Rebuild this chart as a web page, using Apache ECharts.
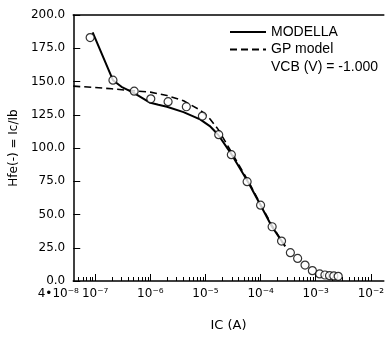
<!DOCTYPE html>
<html>
<head>
<meta charset="utf-8">
<script src="https://cdn.jsdelivr.net/npm/echarts@6/dist/echarts.min.js"></script>
<style>
  html, body { margin: 0; padding: 0; background: #fff; }
  #chart { width: 387px; height: 337px; }
</style>
</head>
<body>
<div id="chart"></div>
<script>
// measured data (open circles)
const measIc = [8.1e-8, 2.1e-7, 5.1e-7, 1.02e-6, 2.1e-6, 4.5e-6, 8.8e-6, 1.74e-5, 2.95e-5, 5.7e-5,
  1.0e-4, 1.62e-4, 2.4e-4, 3.47e-4, 4.7e-4, 6.4e-4, 8.7e-4, 1.18e-3, 1.47e-3, 1.78e-3, 2.13e-3, 2.56e-3];
const measHfe = [183, 151, 142.7, 137, 134.8, 131, 124, 110, 95, 74.7,
  57, 40.8, 30, 21.3, 17, 12, 7.8, 5.3, 4.5, 4.0, 3.8, 3.5];

// MODELLA (solid)
const modIc = [9e-8, 2.1e-7, 3e-7, 5e-7, 1e-6, 1.4e-6, 2e-6, 4e-6, 8e-6, 1.2e-5, 1.7e-5, 3e-5, 6e-5, 1e-4, 1.6e-4, 2.8e-4];
const modHfe = [187, 151, 146, 141.5, 134, 132.5, 131, 127, 121.5, 116.5, 110, 95, 74, 57, 41, 26];

// GP model (dashed)
const gpIc = [4e-8, 1e-7, 2e-7, 5e-7, 1e-6, 2e-6, 4e-6, 8e-6, 1.2e-5, 1.7e-5, 3e-5, 6e-5, 1e-4, 1.6e-4, 2.6e-4];
const gpHfe = [146.5, 145.5, 144.5, 143, 142, 139.5, 135.5, 128.5, 122, 114, 96.5, 75, 57.5, 42, 28];

// axis ticks / labels
const xLabelVals = [4e-8, 1e-7, 1e-6, 1e-5, 1e-4, 1e-3, 1e-2];
const xLabelText = ['4•10⁻⁸', '10⁻⁷', '10⁻⁶', '10⁻⁵', '10⁻⁴', '10⁻³', '10⁻²'];
const xMajorTicks = [1e-7, 1e-6, 1e-5, 1e-4, 1e-3, 1e-2];

const X_MIN = 4e-8, X_MAX = 1.72e-2;
const FONT = '"DejaVu Sans", sans-serif';
const LEG_FONT = '"Liberation Sans", Arial, sans-serif';

// minor ticks 2..9 in every decade
const xMinorTicks = [];
for (let e = -8; e <= -2; e++) {
  for (let m = 2; m <= 9; m++) {
    const v = m * Math.pow(10, e);
    if (v > X_MIN * 1.001 && v < X_MAX) xMinorTicks.push(v);
  }
}

// nudge the first label inside the extent so it is not dropped by rounding
const labelPos = xLabelVals.map(v => Math.max(v, X_MIN * 1.0001));

const zip = (a, b) => a.map((v, i) => [v, b[i]]);

const chart = echarts.init(document.getElementById('chart'));
chart.setOption({
  animation: false,
  grid: { left: 72, right: 2, top: 15, bottom: 56 },
  legend: {
    orient: 'vertical',
    left: 229,
    top: 25,
    padding: 0,
    itemWidth: 36,
    itemHeight: 14,
    itemGap: 3.5,
    data: ['MODELLA', 'GP model'],
    itemStyle: { opacity: 0 },
    textStyle: { fontSize: 14, color: '#000', fontFamily: LEG_FONT }
  },
  graphic: [{
    type: 'text',
    left: 271,
    top: 60,
    style: { text: 'VCB (V) = -1.000', font: '14px "Liberation Sans", Arial, sans-serif', fill: '#000' }
  }],
  xAxis: [
    {
      type: 'log',
      position: 'bottom',
      min: X_MIN,
      max: X_MAX,
      name: 'IC (A)',
      nameLocation: 'middle',
      nameGap: 38,
      nameTextStyle: { fontSize: 13, color: '#000', fontFamily: FONT },
      axisLine: { show: true, lineStyle: { color: '#000', width: 1.5 } },
      axisTick: { show: true, inside: true, length: 7, customValues: xMajorTicks, lineStyle: { color: '#000' } },
      axisLabel: {
        customValues: labelPos,
        showMinLabel: true,
        color: '#000',
        fontSize: 12,
        fontFamily: FONT,
        margin: 7,
        formatter: function (v) {
          for (let i = 0; i < xLabelVals.length; i++) {
            if (Math.abs(v / xLabelVals[i] - 1) < 1e-2) {
              // the first label sits left of its tick in the original
              return i === 0 ? '{a|' + xLabelText[i] + '}' : xLabelText[i];
            }
          }
          return '';
        },
        rich: {
          a: { fontSize: 12, fontFamily: FONT, color: '#000', padding: [0, 30, 0, 0] }
        }
      },
      splitLine: { show: false }
    },
    {
      type: 'log',
      position: 'bottom',
      min: X_MIN,
      max: X_MAX,
      axisLine: { show: false },
      axisTick: { show: true, inside: true, length: 4, customValues: xMinorTicks, lineStyle: { color: '#000' } },
      axisLabel: { show: false },
      splitLine: { show: false }
    },
    {
      type: 'log',
      position: 'top',
      min: X_MIN,
      max: X_MAX,
      axisLine: { show: true, lineStyle: { color: '#000', width: 1.5 } },
      axisTick: { show: false },
      axisLabel: { show: false },
      splitLine: { show: false }
    }
  ],
  yAxis: {
    type: 'value',
    min: 0,
    max: 200,
    interval: 25,
    name: 'Hfe(-) = Ic/Ib',
    nameLocation: 'middle',
    nameGap: 48,
    nameTextStyle: { fontSize: 12, color: '#000', fontFamily: FONT },
    axisLine: { show: true, lineStyle: { color: '#000', width: 1.5 } },
    axisTick: { show: true, inside: true, length: 7, lineStyle: { color: '#000' } },
    axisLabel: {
      color: '#000',
      fontSize: 12,
      fontFamily: FONT,
      margin: 8,
      formatter: v => v.toFixed(1)
    },
    splitLine: { show: false }
  },
  series: [
    {
      name: 'MODELLA',
      type: 'line',
      xAxisIndex: 0,
      data: zip(modIc, modHfe),
      symbol: 'none',
      lineStyle: { color: '#000', width: 2 },
      itemStyle: { color: 'rgba(0,0,0,0)' },
      z: 2
    },
    {
      name: 'GP model',
      type: 'line',
      xAxisIndex: 0,
      data: zip(gpIc, gpHfe),
      symbol: 'none',
      lineStyle: { color: '#000', width: 1.6, type: [7, 4] },
      itemStyle: { color: 'rgba(0,0,0,0)' },
      z: 2
    },
    {
      name: 'measured',
      type: 'scatter',
      xAxisIndex: 0,
      data: zip(measIc, measHfe),
      symbol: 'circle',
      symbolSize: 8,
      itemStyle: { color: '#fff', borderColor: '#000', borderWidth: 1.2 },
      z: 3
    }
  ]
});
</script>
</body>
</html>
